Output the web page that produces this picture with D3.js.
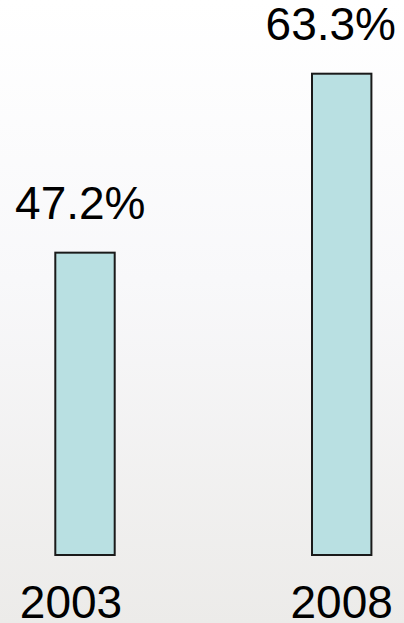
<!DOCTYPE html>
<html>
<head>
<meta charset="utf-8">
<script src="https://cdn.jsdelivr.net/npm/d3@7"></script>
<style>
  html, body { margin: 0; padding: 0; background: #fff; }
  svg { display: block; }
</style>
</head>
<body>
<script>
const categories = ["2003", "2008"];
const values = [47.2, 63.3];
const valueLabels = ["47.2%", "63.3%"];

const W = 404, H = 623;
const svg = d3.select("body").append("svg").attr("width", W).attr("height", H);

const defs = svg.append("defs");
const grad = defs.append("linearGradient").attr("id", "bg").attr("x1", 0).attr("y1", 0).attr("x2", 0).attr("y2", 1);
grad.append("stop").attr("offset", "0%").attr("stop-color", "#ffffff");
grad.append("stop").attr("offset", "45%").attr("stop-color", "#f8f8fa");
grad.append("stop").attr("offset", "100%").attr("stop-color", "#ecebe9");
svg.append("rect").attr("width", W).attr("height", H).attr("fill", "url(#bg)");

// bar positions
const x = d3.scalePoint().domain(categories).range([85, 341.7]);
const barW = 59.4;
const y = d3.scaleLinear().domain([20, 63.3]).range([555, 73.7]);

// label positions
const xVal = d3.scalePoint().domain(categories).range([80.3, 330.8]);
const xCat = d3.scalePoint().domain(categories).range([71, 341.7]);

svg.selectAll("rect.bar").data(categories).join("rect")
  .attr("class", "bar")
  .attr("x", (d) => x(d) - barW / 2)
  .attr("width", barW)
  .attr("y", (d, i) => y(values[i]))
  .attr("height", (d, i) => y(20) - y(values[i]))
  .attr("fill", "#b9e0e2")
  .attr("stroke", "#1a1a1a")
  .attr("stroke-width", 2);

const font = "'Liberation Sans', Arial, sans-serif";

svg.selectAll("text.val").data(categories).join("text")
  .attr("class", "val")
  .attr("x", (d) => xVal(d))
  .attr("y", (d, i) => y(values[i]) - 34)
  .attr("text-anchor", "middle")
  .attr("font-family", font)
  .attr("font-size", 46)
  .attr("fill", "#000")
  .text((d, i) => valueLabels[i]);

svg.selectAll("text.cat").data(categories).join("text")
  .attr("class", "cat")
  .attr("x", (d) => xCat(d))
  .attr("y", 617.5)
  .attr("text-anchor", "middle")
  .attr("font-family", font)
  .attr("font-size", 46)
  .attr("fill", "#000")
  .text((d) => d);
</script>
</body>
</html>
